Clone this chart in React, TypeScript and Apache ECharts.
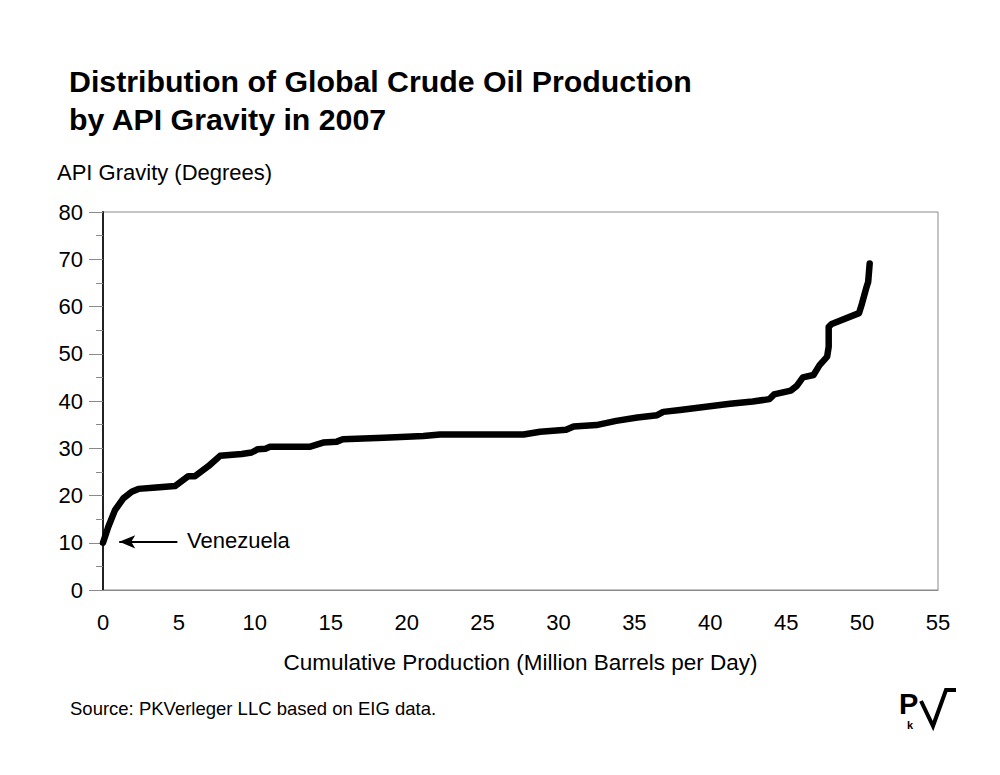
import React, { useEffect, useRef } from "react";
import * as echarts from "echarts";

const production = [0, 0.35, 0.79, 1.34, 1.89, 2.33, 3.5, 4.74, 5.62, 6.06, 6.94, 7.71, 9.14, 9.79, 10.2, 10.7, 11.0, 13.6, 14.5, 15.4, 15.8, 18.5, 21.1, 22.2, 27.7, 28.8, 30.5, 31.0, 32.5, 33.8, 35.2, 36.5, 36.9, 38.0, 41.3, 42.8, 43.9, 44.2, 45.3, 45.7, 46.1, 46.8, 47.2, 47.7, 47.8, 47.8, 48.0, 49.8, 50.0, 50.3, 50.4, 50.5];
const gravity = [10.0, 13.4, 16.9, 19.4, 20.8, 21.4, 21.7, 22.0, 24.1, 24.1, 26.2, 28.4, 28.8, 29.1, 29.8, 29.9, 30.3, 30.3, 31.2, 31.4, 31.9, 32.2, 32.6, 32.9, 32.9, 33.5, 33.9, 34.6, 34.9, 35.8, 36.5, 37.0, 37.7, 38.1, 39.4, 39.9, 40.4, 41.4, 42.2, 43.2, 45.0, 45.5, 47.6, 49.4, 51.5, 55.7, 56.3, 58.6, 60.7, 64.2, 65.2, 69.1];

const xTicks = [0, 5, 10, 15, 20, 25, 30, 35, 40, 45, 50, 55];
const yTicks = [0, 10, 20, 30, 40, 50, 60, 70, 80];

const titleText = "Distribution of Global Crude Oil Production\nby API Gravity in 2007";
const yTitle = "API Gravity (Degrees)";
const xTitle = "Cumulative Production (Million Barrels per Day)";
const sourceText = "Source: PKVerleger LLC based on EIG data.";
const annotationText = "Venezuela";
const annotationArrow = { fromX: 4.9, toX: 1.07, y: 10.2 };

const FONT = "'Liberation Sans', Arial, sans-serif";

export default function App() {
  const ref = useRef<HTMLDivElement>(null);
  useEffect(() => {
    if (!ref.current) return;
    const chart = echarts.init(ref.current, null, { renderer: "svg" });
    const data = production.map((p, i) => [p, gravity[i]]);
    chart.setOption({
      animation: false,
      backgroundColor: "#ffffff",
      textStyle: { fontFamily: FONT },
      title: {
        text: titleText,
        left: 64,
        top: 57,
        textStyle: { fontFamily: FONT, fontSize: 30.3, fontWeight: "bold", color: "#000", lineHeight: 38 },
      },
      grid: {
        left: 103,
        right: 62,
        top: 212,
        bottom: 185,
        show: true,
        borderColor: "#8a8a8a",
        borderWidth: 1,
        backgroundColor: "transparent",
      },
      xAxis: {
        type: "value",
        min: xTicks[0],
        max: xTicks[xTicks.length - 1],
        interval: 5,
        name: xTitle,
        nameLocation: "middle",
        nameGap: 61,
        nameTextStyle: { fontFamily: FONT, fontSize: 22.5, color: "#000" },
        axisLine: { show: true, lineStyle: { color: "#8a8a8a", width: 1 } },
        axisTick: { show: false },
        splitLine: { show: false },
        axisLabel: { fontFamily: FONT, fontSize: 22, color: "#000", margin: 21 },
      },
      yAxis: {
        type: "value",
        min: yTicks[0],
        max: yTicks[yTicks.length - 1],
        interval: 10,
        axisLine: { show: true, lineStyle: { color: "#222", width: 2 } },
        axisTick: { show: true, length: 14, lineStyle: { color: "#8a8a8a", width: 1 } },
        minorTick: { show: true, splitNumber: 2, length: 7, lineStyle: { color: "#8a8a8a", width: 1 } },
        splitLine: { show: false },
        axisLabel: { fontFamily: FONT, fontSize: 22, color: "#000", margin: 20 },
      },
      series: [
        {
          type: "line",
          data,
          showSymbol: false,
          symbol: "none",
          lineStyle: { color: "#000", width: 6.5, join: "round", cap: "round" },
          z: 3,
          markLine: {
            silent: true,
            symbol: ["arrow", "none"],
            symbolSize: [10, 16],
            label: { show: false },
            lineStyle: { color: "#000", width: 2, type: "solid" },
            data: [[{ coord: [annotationArrow.toX, annotationArrow.y] }, { coord: [annotationArrow.fromX, annotationArrow.y] }]],
          },
        },
      ],
      graphic: [
        {
          type: "text",
          left: 57,
          top: 161,
          style: { text: yTitle, fontFamily: FONT, fontSize: 22, fill: "#000" },
        },
        {
          type: "text",
          left: 187,
          top: 529,
          style: { text: annotationText, fontFamily: FONT, fontSize: 22, fill: "#000" },
        },
        {
          type: "text",
          left: 70,
          top: 699,
          style: { text: sourceText, fontFamily: FONT, fontSize: 18.5, fill: "#000" },
        },
        {
          type: "text",
          left: 899,
          top: 689,
          style: { text: "P", fontFamily: FONT, fontSize: 29, lineHeight: 29, fontWeight: "bold", fill: "#000" },
        },
        {
          type: "text",
          left: 907,
          top: 719,
          style: { text: "k", fontFamily: FONT, fontSize: 11, lineHeight: 11, fontWeight: "bold", fill: "#000" },
        },
        {
          type: "polyline",
          shape: { points: [[921, 701], [933, 726], [946, 690], [956, 690]] },
          style: { stroke: "#000", lineWidth: 4, fill: "none", lineJoin: "miter" },
        },
      ],
    });
    return () => chart.dispose();
  }, []);
  return (
    <div
      ref={ref}
      style={{ position: "fixed", left: 0, top: 0, width: 1000, height: 775, background: "#fff" }}
    />
  );
}
